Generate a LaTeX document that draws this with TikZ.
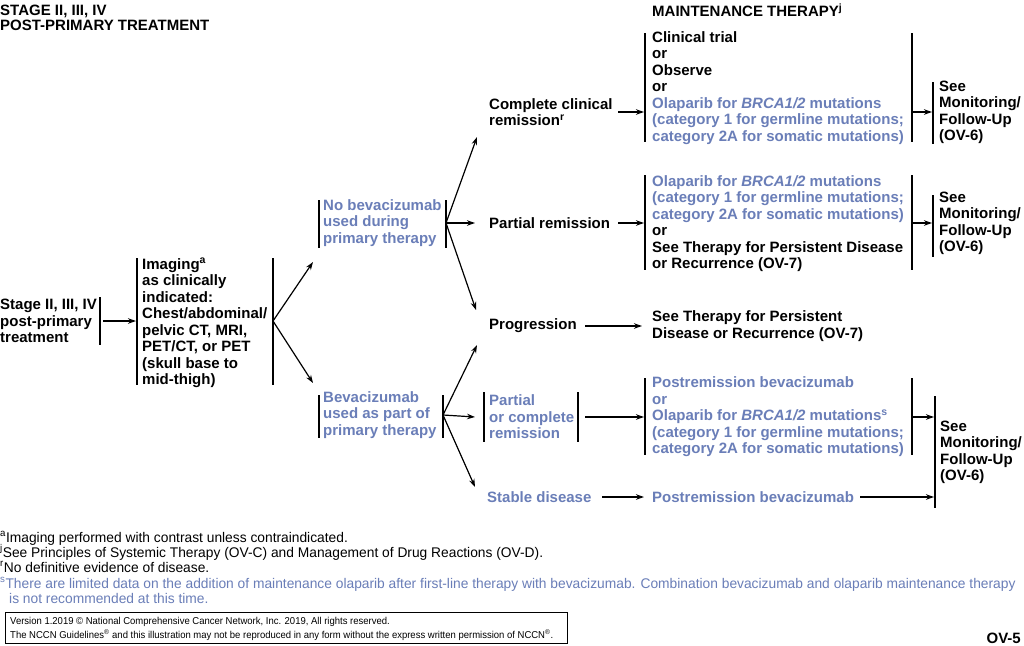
\documentclass[tikz,border=0pt]{standalone}
\usepackage{fontspec}
\setmainfont{Liberation Sans}
\usetikzlibrary{arrows.meta}
\definecolor{nblue}{RGB}{106,126,184}
\begin{document}
\begin{tikzpicture}[x=1pt,y=-1pt,
  txt/.style={font=\bfseries\fontsize{15}{16.5}\selectfont, align=left, inner sep=0pt, anchor=west},
  bl/.style={txt, text=nblue},
  bar/.style={line width=1.2pt},
  arr/.style={line width=1.2pt, -{Stealth[length=8pt,width=5.5pt]}},
  fn/.style={font=\fontsize{14}{15}\selectfont, inner sep=0pt, anchor=base west},
  cp/.style={font=\fontsize{10}{12}\selectfont, inner sep=0pt, anchor=base west},
]
\useasboundingbox[fill=white] (0,0) rectangle (1024,645);

% headers
\node[txt, anchor=north west, font=\bfseries\fontsize{15}{15}\selectfont] (h1) at (0,5) {STAGE II, III, IV\\POST-PRIMARY TREATMENT};
\node[txt] (mt) at (652,10) {MAINTENANCE THERAPY\textsuperscript{j}};

% column 1
\node[txt] (st) at (0,321) {Stage II, III, IV\\post-primary\\treatment};
\draw[bar] (100,297) -- (100,345);
\coordinate (stR) at (103,321);
\coordinate (imL) at (136,321);

\node[txt] (im) at (142,323) {Imaging\textsuperscript{a}\\as clinically\\indicated:\\Chest/abdominal/\\pelvic CT, MRI,\\PET/CT, or PET\\(skull base to\\mid-thigh)};
\draw[bar] (137,258) -- (137,385);
\draw[bar] (273,258) -- (273,385);
\coordinate (imR) at (273,321);
\coordinate (nbT) at (313,262);
\coordinate (bvT) at (313,383);

% column 2
\node[bl] (nb) at (323,223) {No bevacizumab\\used during\\primary therapy};
\draw[bar] (319,200) -- (319,248);
\draw[bar] (446,200) -- (446,248);
\coordinate (nbR) at (446,223);

\node[bl] (bv) at (323,415) {Bevacizumab\\used as part of\\primary therapy};
\draw[bar] (319,395) -- (319,438);
\draw[bar] (443,395) -- (443,438);
\coordinate (bvR) at (443,415);

% column 3
\node[txt] (ccr) at (489,112) {Complete clinical\\remission\textsuperscript{r}};
\node[txt] (pr) at (489,223) {Partial remission};
\node[txt] (pg) at (489,326) {Progression};
\node[bl] (pcr) at (489,417) {Partial\\or complete\\remission};
\draw[bar] (484,392) -- (484,442);
\draw[bar] (578,392) -- (578,442);
\node[bl] (sd) at (487,497) {Stable disease};

\coordinate (ccrT) at (477,137);
\coordinate (prT) at (475,223);
\coordinate (pgT1) at (476,310);
\coordinate (pgT2) at (477,345);
\coordinate (pcrT) at (475,417);
\coordinate (sdT) at (475,487);

% column 4
\node[txt] (m1) at (652,88) {Clinical trial\\or\\Observe\\or\\\textcolor{nblue}{Olaparib for \textit{BRCA1/2} mutations}\\\textcolor{nblue}{(category 1 for germline mutations;}\\\textcolor{nblue}{category 2A for somatic mutations)}};
\draw[bar] (645,33) -- (645,142);
\draw[bar] (912,33) -- (912,142);

\node[txt] (m2) at (652,223.5) {\textcolor{nblue}{Olaparib for \textit{BRCA1/2} mutations}\\\textcolor{nblue}{(category 1 for germline mutations;}\\\textcolor{nblue}{category 2A for somatic mutations)}\\or\\See Therapy for Persistent Disease\\or Recurrence (OV-7)};
\draw[bar] (645,175) -- (645,270);
\draw[bar] (912,175) -- (912,270);

\node[txt] (m3) at (652,326) {See Therapy for Persistent\\Disease or Recurrence (OV-7)};

\node[bl] (m4) at (652,417) {Postremission bevacizumab\\or\\Olaparib for \textit{BRCA1/2} mutations\textsuperscript{s}\\(category 1 for germline mutations;\\category 2A for somatic mutations)};
\draw[bar] (645,378) -- (645,455);
\draw[bar] (912,378) -- (912,455);

\node[bl] (m5) at (652,497) {Postremission bevacizumab};

% column 5
\node[txt] (f1) at (939,112.5) {See\\Monitoring/\\Follow-Up\\(OV-6)};
\draw[bar] (933,82) -- (933,144);
\node[txt] (f2) at (939,223.5) {See\\Monitoring/\\Follow-Up\\(OV-6)};
\draw[bar] (933,195) -- (933,257);
\node[txt] (f3) at (940,452.5) {See\\Monitoring/\\Follow-Up\\(OV-6)};
\draw[bar] (935,396) -- (935,508);

% arrows
\draw[arr] (stR) -- (imL);
\draw[arr] (imR) -- (nbT);
\draw[arr] (imR) -- (bvT);
\draw[arr] (nbR) -- (ccrT);
\draw[arr] (nbR) -- (prT);
\draw[arr] (nbR) -- (pgT1);
\draw[arr] (bvR) -- (pgT2);
\draw[arr] (bvR) -- (pcrT);
\draw[arr] (bvR) -- (sdT);

\coordinate (a1s) at (618,112); \coordinate (a1e) at (644,112);
\coordinate (a2s) at (618,223); \coordinate (a2e) at (644,223);
\coordinate (a3s) at (585,326); \coordinate (a3e) at (642,326);
\coordinate (a4s) at (585,417); \coordinate (a4e) at (644,417);
\coordinate (a5s) at (602,497); \coordinate (a5e) at (644,497);
\draw[arr] (a1s) -- (a1e);
\draw[arr] (a2s) -- (a2e);
\draw[arr] (a3s) -- (a3e);
\draw[arr] (a4s) -- (a4e);
\draw[arr] (a5s) -- (a5e);

\coordinate (b1s) at (912,112); \coordinate (b1e) at (932,112);
\coordinate (b2s) at (912,223); \coordinate (b2e) at (932,223);
\coordinate (b3s) at (912,417); \coordinate (b3e) at (934,417);
\coordinate (b4s) at (860,497); \coordinate (b4e) at (934,497);
\draw[arr] (b1s) -- (b1e);
\draw[arr] (b2s) -- (b2e);
\draw[arr] (b3s) -- (b3e);
\draw[arr] (b4s) -- (b4e);

% footnotes
\node[fn] (fa) at (0,542) {\scalebox{0.985}[1]{\textsuperscript{a}Imaging performed with contrast unless contraindicated.}};
\node[fn] (fj) at (0,557) {\scalebox{0.985}[1]{\textsuperscript{j}See Principles of Systemic Therapy (OV-C) and Management of Drug Reactions (OV-D).}};
\node[fn] (fr) at (0,572) {\scalebox{0.985}[1]{\textsuperscript{r}No definitive evidence of disease.}};
\node[fn, text=nblue] (fs) at (0,588) {\scalebox{0.985}[1]{\textsuperscript{s}There are limited data on the addition of maintenance olaparib after first-line therapy with bevacizumab. Combination bevacizumab and olaparib maintenance therapy}};
\node[fn, text=nblue] (fs2) at (9,603) {\scalebox{0.985}[1]{is not recommended at this time.}};

\node[draw, line width=1pt, minimum width=562pt, minimum height=31pt, anchor=north west, inner sep=0pt] (cbox) at (5,612) {};
\node[cp] (c1) at (10,624) {\scalebox{0.95}[1]{Version 1.2019 \textcopyright\ National Comprehensive Cancer Network, Inc. 2019, All rights reserved.}};
\node[cp] (c2) at (10,638) {\scalebox{0.95}[1]{The NCCN Guidelines\textsuperscript{\textregistered} and this illustration may not be reproduced in any form without the express written permission of NCCN\textsuperscript{\textregistered}.}};

\node[txt, anchor=east] (ov) at (1021,638) {OV-5};
\end{tikzpicture}
\end{document}
